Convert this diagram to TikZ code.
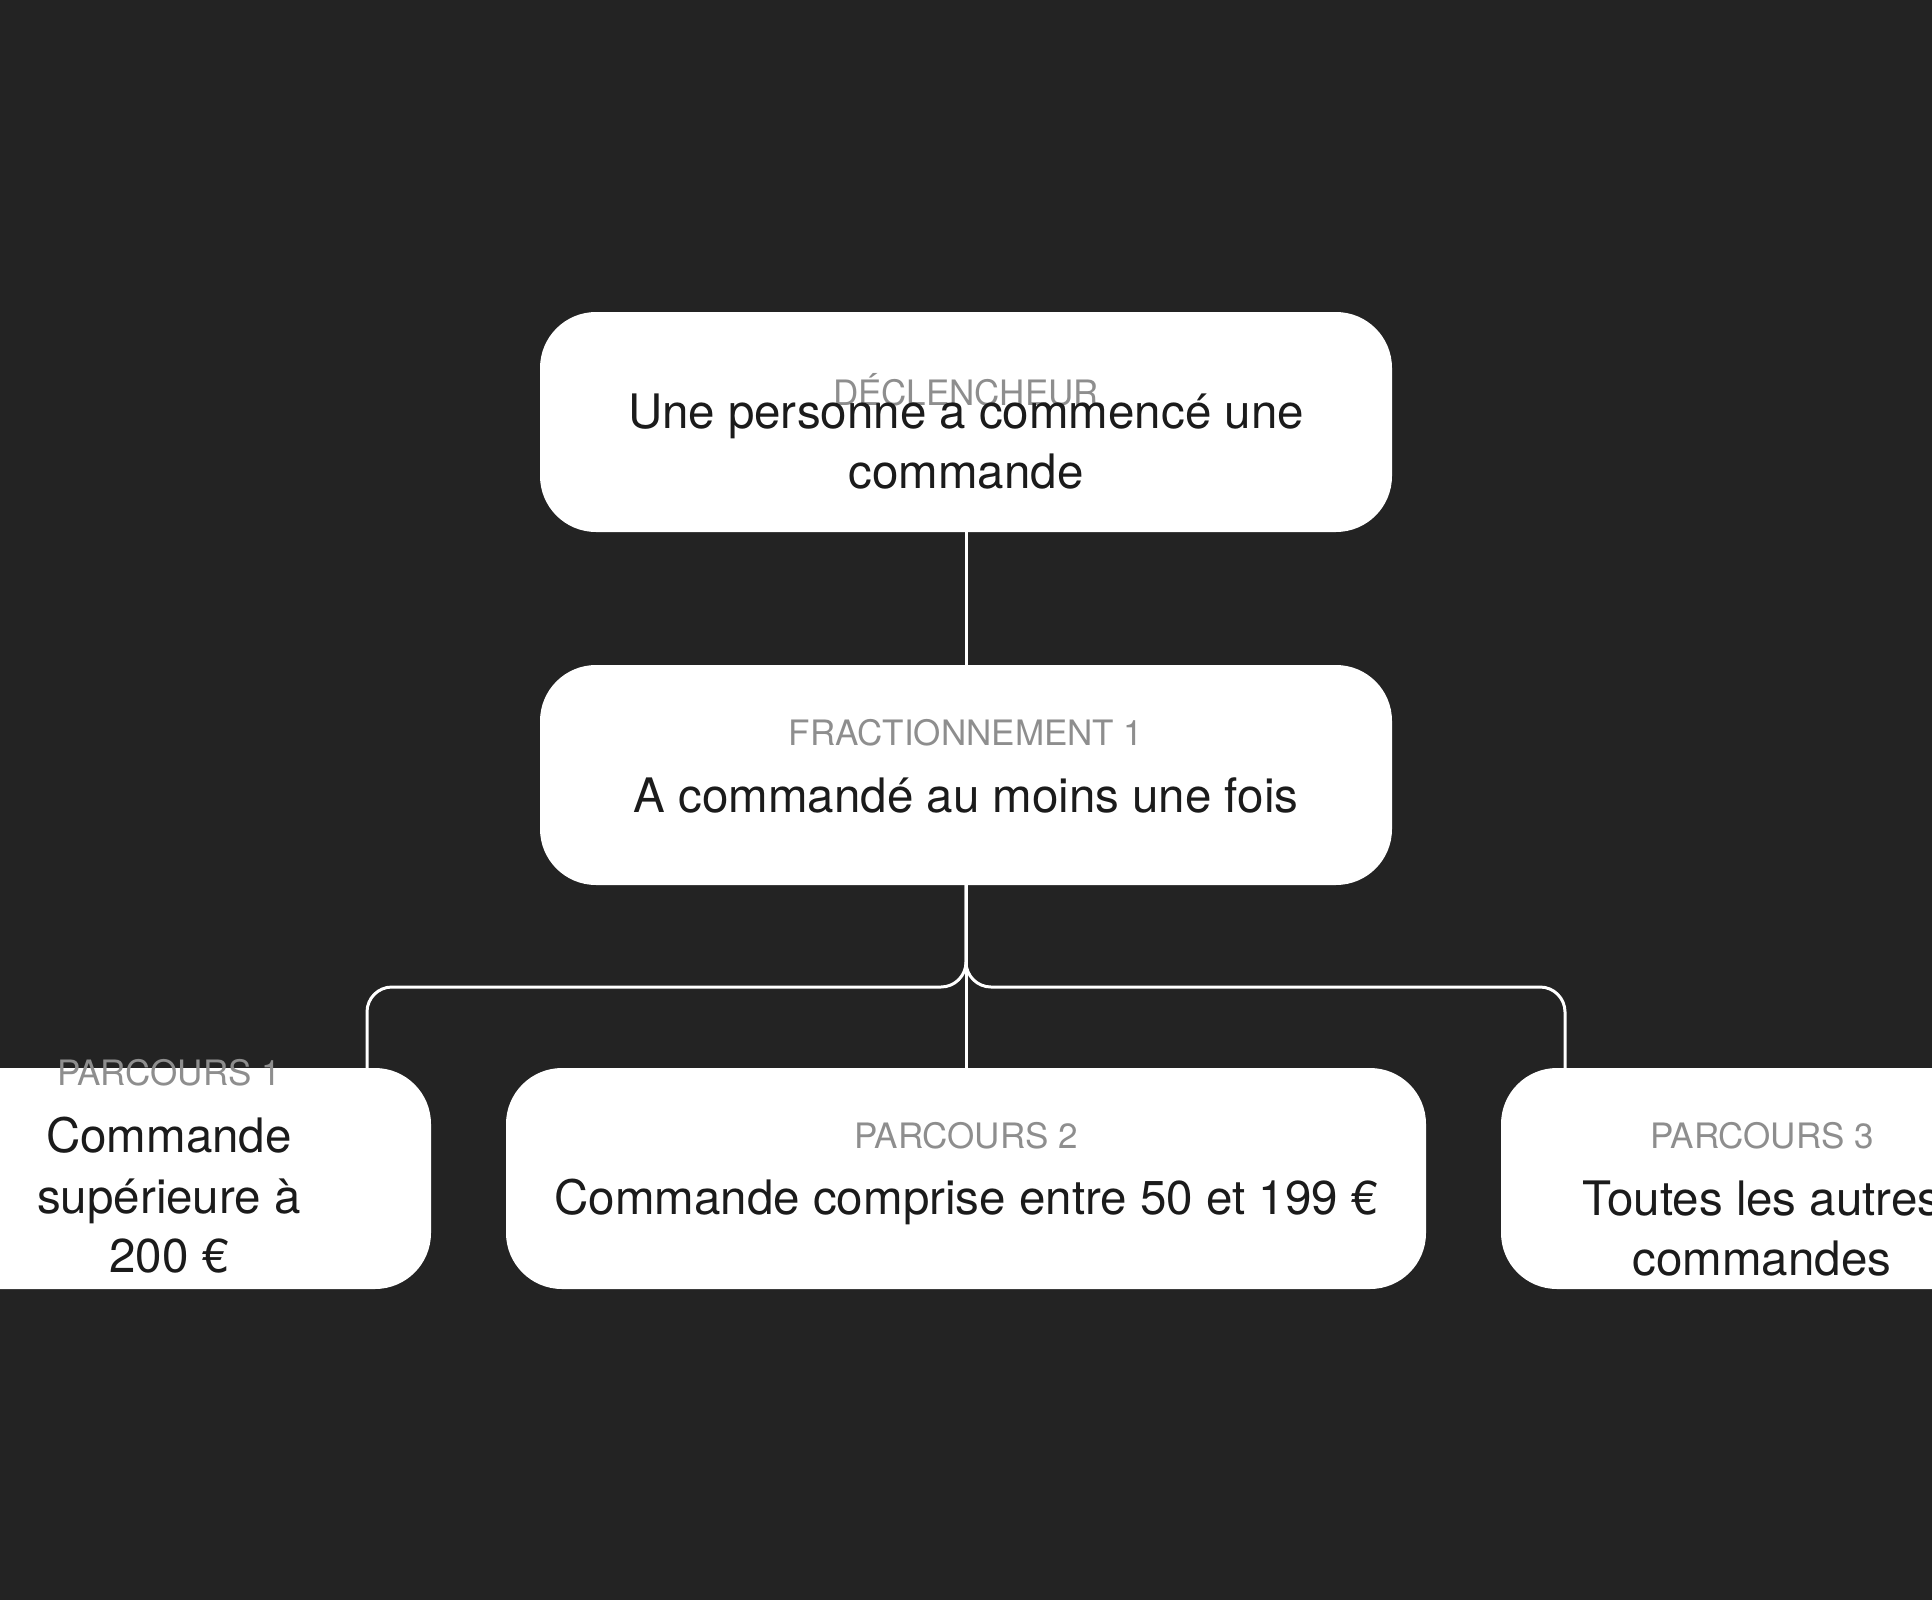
\documentclass[tikz,border=0pt]{standalone}
\usepackage{fontspec}
\setmainfont{TeX Gyre Heros}
\definecolor{bg}{HTML}{232323}
\definecolor{lbl}{HTML}{8E8E8E}
\definecolor{ink}{HTML}{1B1B1B}
\begin{document}
\begin{tikzpicture}[x=1pt,y=-1pt,
  box/.style={fill=white, rounded corners=56pt, draw=none, inner sep=0pt},
  lab/.style={text=lbl, font=\fontsize{35}{40}\selectfont, anchor=base, inner sep=0pt},
  txt/.style={text=ink, font=\fontsize{47.5}{60}\selectfont, anchor=base, inner sep=0pt},
  conn/.style={draw=white, line width=3pt, rounded corners=25pt}]
\useasboundingbox (0,0) rectangle (1932,1600);
\clip (0,0) rectangle (1932,1600);
\fill[bg] (0,0) rectangle (1932,1600);

% boxes
\node[box, minimum width=852pt, minimum height=220pt] (top) at (966,422) {};
\node[box, minimum width=852pt, minimum height=220pt] (mid) at (966,775) {};
\node[box, minimum width=524pt, minimum height=221pt] (p1) at (169,1178.5) {};
\node[box, minimum width=920pt, minimum height=221pt] (p2) at (966,1178.5) {};
\node[box, minimum width=522pt, minimum height=221pt] (p3) at (1762,1178.5) {};

% connectors
\coordinate (jl) at (367,987);
\coordinate (jr) at (1565,987);
\draw[conn] (top.south) -- (mid.north);
\draw[conn] (mid.south) -- (p2.north);
\draw[conn] (mid.south) -- (mid.south |- jl) -| (p1.north -| jl);
\draw[conn] (mid.south) -- (mid.south |- jr) -| (p3.north -| jr);

% texts
\node[lab] (tlab) at (966,405) {DÉCLENCHEUR};
\node[txt] (t1) at (966,428) {Une personne a commencé une};
\node[txt] (t2) at (966,488) {commande};

\node[lab] (mlab) at (966,745) {FRACTIONNEMENT 1};
\node[txt] (m1) at (966,812) {A commandé au moins une fois};

\node[lab] (p1lab) at (169,1085) {PARCOURS 1};
\node[txt] (p1a) at (169,1152) {Commande};
\node[txt] (p1b) at (169,1213) {supérieure à};
\node[txt] (p1c) at (169,1272) {200 €};

\node[lab] (p2lab) at (966,1148) {PARCOURS 2};
\node[txt] (p2a) at (966,1214) {Commande comprise entre 50 et 199 €};

\node[lab] (p3lab) at (1762,1148) {PARCOURS 3};
\node[txt] (p3a) at (1762,1215) {Toutes les autres};
\node[txt] (p3b) at (1762,1275) {commandes};
\end{tikzpicture}
\end{document}
